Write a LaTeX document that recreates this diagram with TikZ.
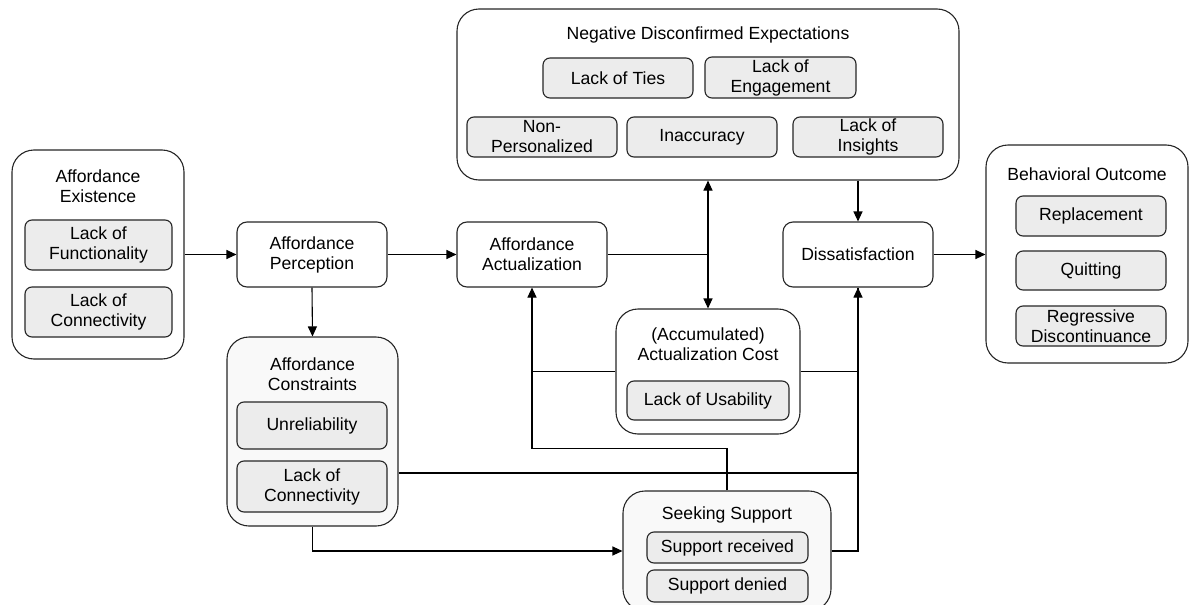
\documentclass[tikz,border=0pt]{standalone}
\usepackage{fontspec}
\setmainfont{Liberation Sans}
\usetikzlibrary{arrows.meta}

\tikzset{every picture/.style={line width=1.1pt}}
\tikzset{
	grp/.style={draw=black!85,rounded corners=22pt,fill=white},
	grpshade/.style={grp,fill=gray!5},
	stage/.style={draw=black!85,rounded corners=10pt,fill=white,align=center,minimum width=150pt,minimum height=65pt,inner sep=2pt},
	item/.style={draw=black!85,rounded corners=7pt,fill=gray!15,align=center,minimum width=150pt,minimum height=40pt,inner sep=1pt},
	ttl/.style={align=center,inner sep=0pt},
}

\begin{document}
\begin{tikzpicture}[x=1pt,y=-1pt,>={Triangle[length=10pt,width=9pt]},font=\fontsize{17.6}{20}\selectfont]
				\useasboundingbox (0,0) rectangle (1189,605);
				% Gruppen
				\node[grp,minimum width=172pt,minimum height=209pt] (exist) at (98,254.5) {};
				\node[ttl] (existT) at (98,186) {Affordance\\Existence};
				\node[item,minimum width=147pt,minimum height=50pt] (exfun) at (98.5,245) {Lack of\\Functionality};
				\node[item,minimum width=147pt,minimum height=50pt] (excon) at (98.5,312) {Lack of\\Connectivity};
				\node[grpshade,minimum width=171pt,minimum height=189pt] (constr) at (312.5,431.5) {};
				\node[ttl] (constrT) at (312.5,374) {Affordance\\Constraints};
				\node[item,minimum height=47pt] (unrel) at (312,425.5) {Unreliability};
				\node[item,minimum height=51pt] (ccon) at (312,486.5) {Lack of\\Connectivity};
				\node[grp,minimum width=502pt,minimum height=171pt] (nde) at (708,94.5) {};
				\node[ttl] (ndeT) at (708,35) {Negative Disconfirmed Expectations};
				\node[item] (ties) at (618,78) {Lack of Ties};
				\node[item,minimum width=151pt,minimum height=41pt] (engage) at (780.5,77.5) {Lack of\\Engagement};
				\node[item] (nonpers) at (542,137) {Non-\\Personalized};
				\node[item] (inacc) at (702,137) {Inaccuracy};
				\node[item] (insight) at (868,137) {Lack of\\Insights};
				\node[grp,minimum width=202pt,minimum height=218pt] (bo) at (1087,254) {};
				\node[ttl] (boT) at (1087,174) {Behavioral Outcome};
				\node[item] (repl) at (1091,216) {Replacement};
				\node[item,minimum height=39pt] (quit) at (1091,270.5) {Quitting};
				\node[item] (regr) at (1091,326) {Regressive\\Discontinuance};
				\node[grp,minimum width=184pt,minimum height=125pt] (cost) at (708,371.5) {};
				\node[ttl] (costT) at (708,344) {(Accumulated)\\Actualization Cost};
				\node[item,minimum width=162pt,minimum height=39pt] (usab) at (708,400.5) {Lack of Usability};
				\node[grpshade,minimum width=208pt,minimum height=120pt] (seek) at (727,551) {};
				\node[ttl] (seekT) at (727,515) {Seeking Support};
				\node[item,minimum width=161pt,minimum height=31pt] (recv) at (727.5,547.5) {Support received};
				\node[item,minimum width=161pt,minimum height=32pt] (deny) at (727.5,586) {Support denied};
				% Stufen
				\node[stage] (percep) at (312,254.5) {Affordance\\Perception};
				\node[stage] (actual) at (532,254.5) {Affordance\\Actualization};
				\node[stage] (dissat) at (858,254.5) {Dissatisfaction};
				% Pfeile
				\draw[->] (exist.east) -- (percep.west);
				\draw[->] (percep.south) -- (constr.north);
				\draw[->] (percep.east) -- (actual.west);
				\draw (actual.east) -- (actual.east -| nde.south);
				\draw[<->] (nde.south) -- (cost.north);
				\draw[->] (nde.south -| dissat.north) -- (dissat.north);
				\draw[->] (dissat.east) -- (dissat.east -| bo.west);
				\draw[->] (seek.north) -- ++(0,-42) -| (actual.south);
				\draw (cost.west) -- (cost.west -| actual.south);
				\draw (cost.east) -- (cost.east -| dissat.south);
				\draw[->] ([yshift=-41.5pt]constr.east) -| (dissat.south);
				\draw (seek.east) -| (dissat.south);
				\draw[->] (constr.south) |- (seek.west);
			\end{tikzpicture}
\end{document}
